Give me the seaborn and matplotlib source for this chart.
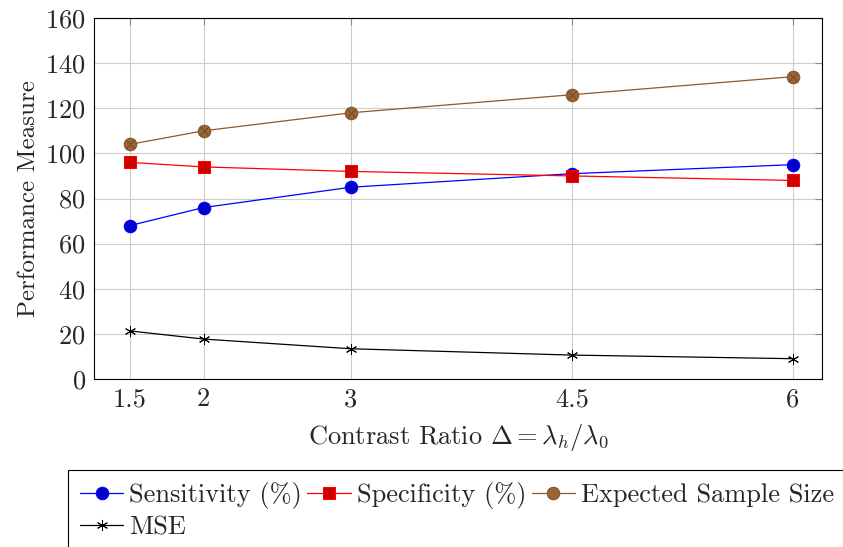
import pandas as pd
import matplotlib
matplotlib.use("Agg")
import matplotlib.pyplot as plt
import seaborn as sns

contrast = [1.5, 2, 3, 4.5, 6]
sensitivity = [68, 76, 85, 91, 95]
specificity = [96, 94, 92, 90, 88]
sample_size = [104, 110, 118, 126, 134]
mse = [21.3, 17.7, 13.4, 10.6, 9.0]

sns.set_style("white")
plt.rcParams["font.family"] = ["cmr10", "DejaVu Serif"]
plt.rcParams["mathtext.fontset"] = "cm"
plt.rcParams["axes.formatter.use_mathtext"] = True

fig = plt.figure(figsize=(8.43, 5.47), dpi=100)
ax = fig.add_axes([94 / 843, 1 - 379 / 547, (822 - 94) / 843, (379 - 18) / 547])

df = pd.DataFrame({"x": contrast, "sens": sensitivity, "spec": specificity,
                   "ess": sample_size, "mse": mse})

sns.lineplot(data=df, x="x", y="sens", ax=ax, color="#0000FF", lw=0.9,
             marker="o", markersize=9, markerfacecolor="#0000CC",
             markeredgecolor="#0000FF", label="Sensitivity (%)")
sns.lineplot(data=df, x="x", y="spec", ax=ax, color="#FF0000", lw=0.9,
             marker="s", markersize=9, markerfacecolor="#CC0000",
             markeredgecolor="#FF0000", label="Specificity (%)")
sns.lineplot(data=df, x="x", y="ess", ax=ax, color="#8C5A2E", lw=0.9,
             marker="o", markersize=9, markerfacecolor="#996633",
             markeredgecolor="#80522A", label="Expected Sample Size")
ax.plot(contrast, sample_size, ls="none", marker="x", markersize=6,
        markeredgecolor="#6B4422", markeredgewidth=0.6)
sns.lineplot(data=df, x="x", y="mse", ax=ax, color="black", lw=0.9,
             marker=(6, 2, 0), markersize=8, markeredgecolor="black",
             markeredgewidth=0.7, label="MSE")

ax.set_xlim(1.256, 6.197)
ax.set_ylim(0, 160)
ax.set_xticks(contrast)
ax.set_xticklabels(["1.5", "2", "3", "4.5", "6"])
ax.set_yticks(range(0, 161, 20))
ax.grid(True, color="#CCCCCC", lw=0.8)
ax.tick_params(direction="in", length=5, top=True, right=True,
               labelsize=19, color="#888888", pad=6)
for s in ax.spines.values():
    s.set_color("black")
    s.set_linewidth(0.8)

ax.set_xlabel(r"Contrast Ratio $\Delta = \lambda_h/\lambda_0$", fontsize=19, labelpad=8)
ax.set_ylabel("Performance Measure", fontsize=18, labelpad=4)

h, l = ax.get_legend_handles_labels()
order = [0, 3, 1, 2]
ax.legend([h[i] for i in order], [l[i] for i in order], ncol=3,
          loc="upper left", bbox_to_anchor=(68 / 843, 1 - 470 / 547),
          bbox_transform=fig.transFigure, fontsize=19, frameon=True,
          fancybox=False, edgecolor="black", framealpha=1,
          handlelength=1.65, handletextpad=0.22, columnspacing=0.2,
          borderpad=0.45, borderaxespad=0, labelspacing=0.25)
ax.get_legend().get_frame().set_linewidth(0.8)

fig.savefig("out.png", dpi=100)
